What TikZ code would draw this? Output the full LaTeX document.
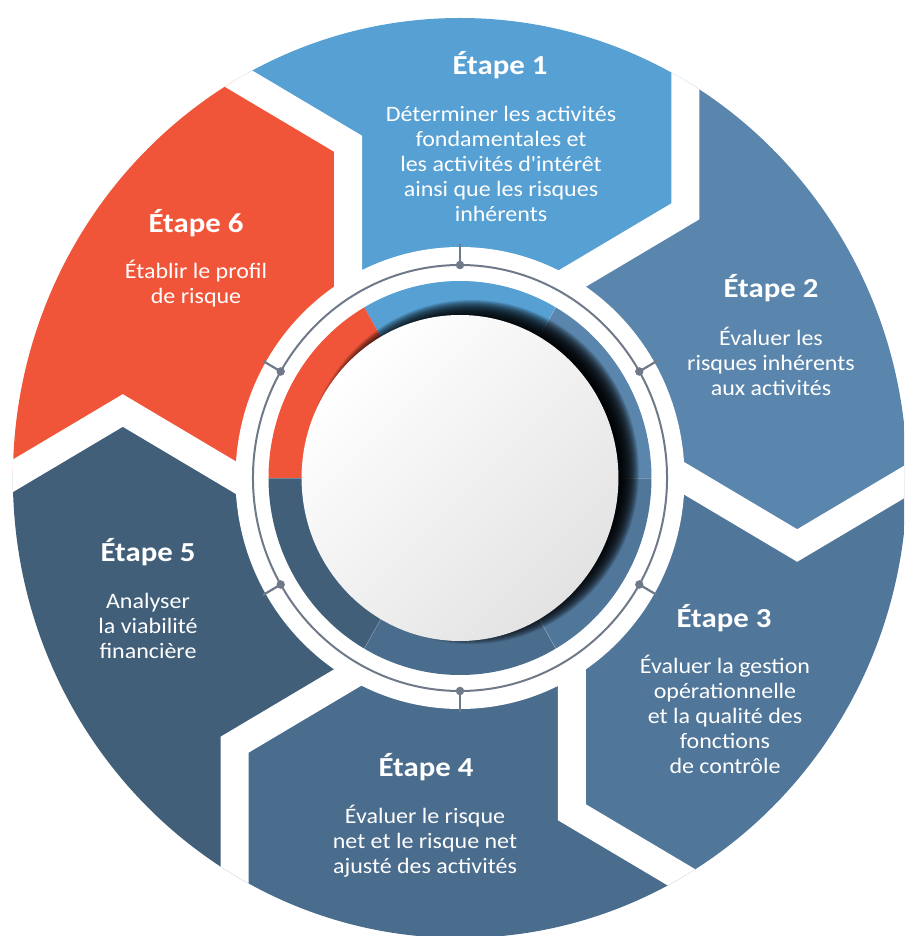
\documentclass[tikz,border=0pt]{standalone}
\usepackage{fontspec}
\setmainfont{Carlito}
\newfontfamily\bodyfont{Carlito}[FakeStretch=1.09]
\newfontfamily\headfont{Carlito}[FakeStretch=1.12, UprightFont=*-Bold]
\usetikzlibrary{calc}
\definecolor{cA}{HTML}{56A0D3}
\definecolor{cB}{HTML}{5A86AD}
\definecolor{cC}{HTML}{50769A}
\definecolor{cD}{HTML}{4A6C8D}
\definecolor{cE}{HTML}{415F79}
\definecolor{cF}{HTML}{F05539}
\definecolor{ringc}{HTML}{6F7989}
\tikzset{
  head/.style={text=white, anchor=base, inner sep=0pt, font=\headfont\fontsize{27.5}{30}\selectfont},
  body/.style={text=white, anchor=base, inner sep=0pt, align=center, font=\bodyfont\fontsize{22}{25}\selectfont}
}
\begin{document}
\begin{tikzpicture}[x=1pt,y=1pt]
\useasboundingbox (-460,-458) rectangle (444,478);
\clip (-460,-458) rectangle (444,478);
\begin{scope}[xscale=0.972]
  % outer chevron segments
  \begin{scope}
    \clip (0,0) circle (460);
    \foreach \a/\c in {120/cA, 60/cB, 0/cC, -60/cD, -120/cE, 180/cF} {
      \fill[\c] ($(\a-60:230)$) -- ($(\a-60:230)+(\a-90:135)$)
        -- ($(\a-60:230)+(\a-90:135)+(\a-30:350)$) -- (\a-30:1100)
        -- ($(\a:230)+(\a-30:135)+(\a+30:350)$) -- ($(\a:230)+(\a-30:135)$)
        -- (\a:230) -- cycle;
    }
    \foreach \a in {120,60,0,-60,-120,180} {
      \draw[white, line width=28pt, line join=miter, miter limit=10]
        ($(\a:230)+(\a+150:40)$) -- ($(\a:230)+(\a-30:135)$)
        -- ($(\a:230)+(\a-30:135)+(\a+30:350)$);
    }
  \end{scope}
  \fill[white] (0,0) circle (231);
  % ring with dots and stubs
  \draw[ringc, line width=2pt] (0,0) circle (213);
  \foreach \m in {90,30,-30,-90,-150,150} {
    \draw[ringc, line width=2.2pt] (\m:213) -- (\m:234);
    \fill[ringc] (\m:213) circle (4.3);
  }
  % inner coloured ring
  \foreach \a/\c in {120/cA, 60/cB, 0/cC, -60/cD, -120/cE, 180/cF} {
    \fill[\c] (0,0) -- (\a-60:197) arc[start angle=\a-60, end angle=\a, radius=197] -- cycle;
  }
  \foreach \a in {60,0,-60,-120,180} {
    \draw[white, opacity=0.25, line width=0.6pt] (\a:160) -- (\a:197);
  }
  % shadow
  \begin{scope}
    \clip (0,0) circle (197);
    \foreach \k in {0,...,24} {
      \fill[black, opacity=0.13] (12,6) circle (148+\k);
    }
  \end{scope}
  % central disk
  \shade[top color=white, bottom color=black!11, shading angle=45] (0,0) circle (163);
\end{scope}
% texts
\node[head] (h1) at (40,403) {Étape 1};
\node[body] (b1) at (41,256) {Déterminer les activités\\fondamentales et\\les activités d'intérêt\\ainsi que les risques\\inhérents};
\node[head] (h2) at (311,180) {Étape 2};
\node[body] (b2) at (311,82) {Évaluer les\\risques inhérents\\aux activités};
\node[head] (h3) at (264,-149) {Étape 3};
\node[body] (b3) at (265,-295) {Évaluer la gestion\\opérationnelle\\et la qualité des\\fonctions\\de contrôle};
\node[head] (h4) at (-34,-298) {Étape 4};
\node[body] (b4) at (-35,-395) {Évaluer le risque\\net et le risque net\\ajusté des activités};
\node[head] (h5) at (-312,-84) {Étape 5};
\node[body] (b5) at (-312,-180) {Analyser\\la viabilité\\financière};
\node[head] (h6) at (-264,245) {Étape 6};
\node[body] (b6) at (-264,174) {Établir le profil\\de risque};
\end{tikzpicture}
\end{document}
